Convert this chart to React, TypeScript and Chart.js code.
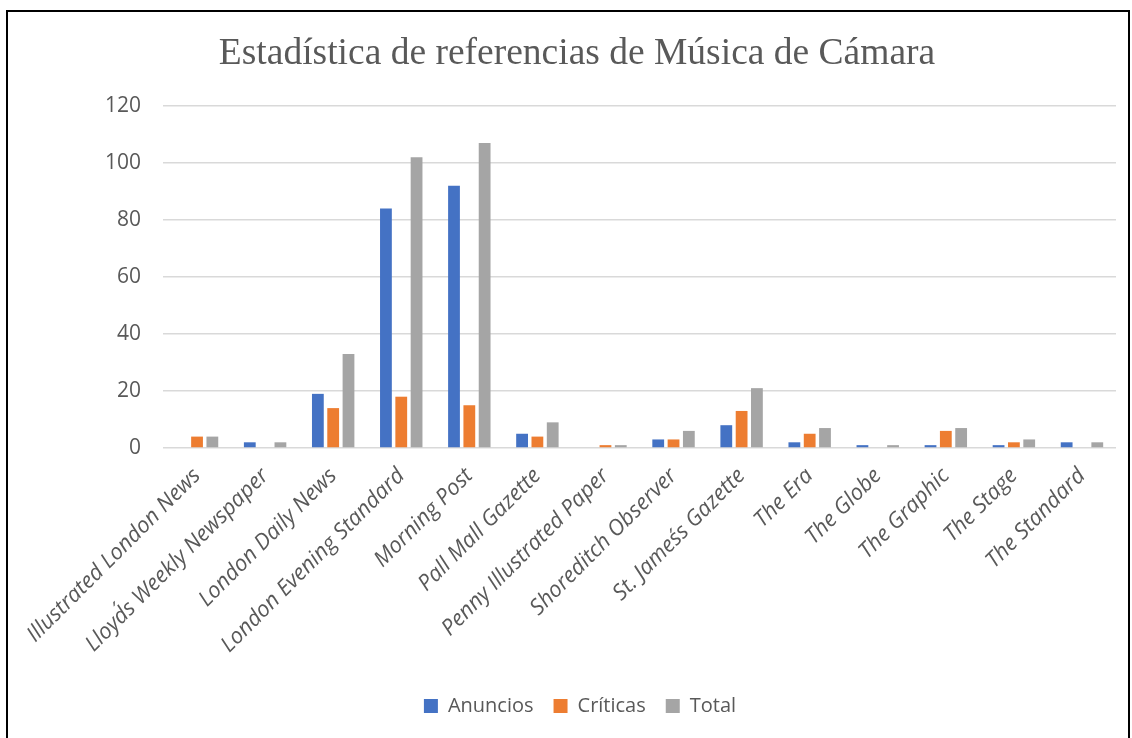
import React, { useEffect, useRef } from "react";
import { Chart, registerables } from "chart.js";

Chart.register(...registerables);

const TITLE = "Estadística de referencias de Música de Cámara";
const categories = [
  "Illustrated London News",
  "Lloyd´s Weekly Newspaper",
  "London Daily News",
  "London Evening Standard",
  "Morning Post",
  "Pall Mall Gazette",
  "Penny Illustrated Paper",
  "Shoreditch Observer",
  "St. James´s Gazette",
  "The Era",
  "The Globe",
  "The Graphic",
  "The Stage",
  "The Standard",
];
const anuncios = [0, 2, 19, 84, 92, 5, 0, 3, 8, 2, 1, 1, 1, 2];
const criticas = [4, 0, 14, 18, 15, 4, 1, 3, 13, 5, 0, 6, 2, 0];
const total = [4, 2, 33, 102, 107, 9, 1, 6, 21, 7, 1, 7, 3, 2];
const yTicks = { min: 0, max: 120, step: 20 };

const SANS = "'Open Sans', 'Liberation Sans', sans-serif";
const TEXT = "#595959";

const titlePlugin = {
  id: "titleText",
  afterDraw(chart: any) {
    const ctx = chart.ctx;
    ctx.save();
    ctx.fillStyle = TEXT;
    ctx.font = "37.5px 'Liberation Serif', 'Times New Roman', serif";
    ctx.textAlign = "center";
    ctx.textBaseline = "middle";
    ctx.fillText(TITLE, 577, 54);
    ctx.restore();
  },
};

export default function App() {
  const ref = useRef<HTMLCanvasElement | null>(null);
  useEffect(() => {
    if (!ref.current) return;
    const chart = new Chart(ref.current, {
      type: "bar",
      data: {
        labels: categories,
        datasets: [
          { label: "Anuncios", data: anuncios, backgroundColor: "#4472C4" },
          { label: "Críticas", data: criticas, backgroundColor: "#ED7D31" },
          { label: "Total", data: total, backgroundColor: "#A5A5A5" },
        ],
      },
      plugins: [titlePlugin],
      options: {
        responsive: false,
        animation: false,
        layout: { padding: { left: 44, right: 16, top: 106, bottom: 12 } },
        datasets: { bar: { categoryPercentage: 0.675, barPercentage: 0.77 } },
        plugins: {
          title: { display: false },
          legend: {
            position: "bottom",
            labels: {
              color: TEXT,
              font: { family: SANS, size: 20 },
              boxWidth: 14,
              boxHeight: 14,
              padding: 20,
            },
          },
          tooltip: { enabled: false },
        },
        scales: {
          x: {
            grid: { display: false },
            border: { display: false },
            ticks: {
              color: TEXT,
              font: { family: SANS, size: 22, style: "italic" },
              minRotation: 45,
              maxRotation: 45,
              padding: 7,
              autoSkip: false,
            },
            afterFit: (s: any) => {
              s.height = 228;
            },
          },
          y: {
            min: yTicks.min,
            max: yTicks.max,
            grid: { color: "#D9D9D9", lineWidth: 1.5, drawTicks: false },
            border: { display: false },
            ticks: {
              stepSize: yTicks.step,
              color: TEXT,
              font: { family: SANS, size: 21 },
              padding: 22,
            },
            afterFit: (s: any) => {
              s.width = 119;
            },
          },
        },
      },
    });
    return () => chart.destroy();
  }, []);
  return (
    <div style={{ position: "fixed", left: 0, top: 0, width: 1132, height: 738, overflow: "hidden", background: "#fff" }}>
      <canvas ref={ref} width={1132} height={738} style={{ position: "absolute", left: 0, top: 0 }} />
      <div
        style={{
          position: "absolute",
          left: 6,
          top: 10,
          width: 1120,
          height: 800,
          border: "2px solid #000",
          pointerEvents: "none",
        }}
      />
    </div>
  );
}
